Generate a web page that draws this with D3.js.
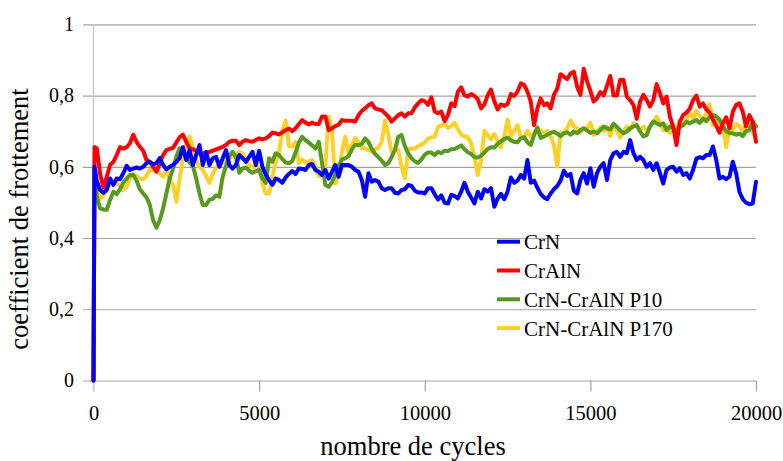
<!DOCTYPE html>
<html>
<head>
<meta charset="utf-8">
<script src="https://cdn.jsdelivr.net/npm/d3@7/dist/d3.min.js"></script>
<style>
  html, body { margin: 0; padding: 0; background: #ffffff; }
  svg { display: block; }
  svg text { font-family: "Liberation Serif", "Times New Roman", serif; }
</style>
</head>
<body>
<svg id="chart" width="783" height="461"></svg>
<script>
// Friction coefficient versus number of cycles for four coatings.
const cycles = [0, 30,
  100, 200, 300, 400, 500, 600, 700, 800, 900, 1000,
  1100, 1200, 1300, 1400, 1500, 1600, 1700, 1800, 1900, 2000,
  2100, 2200, 2300, 2400, 2500, 2600, 2700, 2800, 2900, 3000,
  3100, 3200, 3300, 3400, 3500, 3600, 3700, 3800, 3900, 4000,
  4100, 4200, 4300, 4400, 4500, 4600, 4700, 4800, 4900, 5000,
  5100, 5200, 5300, 5400, 5500, 5600, 5700, 5800, 5900, 6000,
  6100, 6200, 6300, 6400, 6500, 6600, 6700, 6800, 6900, 7000,
  7100, 7200, 7300, 7400, 7500, 7600, 7700, 7800, 7900, 8000,
  8100, 8200, 8300, 8400, 8500, 8600, 8700, 8800, 8900, 9000,
  9100, 9200, 9300, 9400, 9500, 9600, 9700, 9800, 9900, 10000,
  10100, 10200, 10300, 10400, 10500, 10600, 10700, 10800, 10900, 11000,
  11100, 11200, 11300, 11400, 11500, 11600, 11700, 11800, 11900, 12000,
  12100, 12200, 12300, 12400, 12500, 12600, 12700, 12800, 12900, 13000,
  13100, 13200, 13300, 13400, 13500, 13600, 13700, 13800, 13900, 14000,
  14100, 14200, 14300, 14400, 14500, 14600, 14700, 14800, 14900, 15000,
  15100, 15200, 15300, 15400, 15500, 15600, 15700, 15800, 15900, 16000,
  16100, 16200, 16300, 16400, 16500, 16600, 16700, 16800, 16900, 17000,
  17100, 17200, 17300, 17400, 17500, 17600, 17700, 17800, 17900, 18000,
  18100, 18200, 18300, 18400, 18500, 18600, 18700, 18800, 18900, 19000,
  19100, 19200, 19300, 19400, 19500, 19600, 19700, 19800, 19900, 20000];

const crN = [0, 0.60,
  0.56, 0.535, 0.527, 0.535, 0.567, 0.549, 0.567, 0.565, 0.582, 0.603,
  0.591, 0.595, 0.598, 0.595, 0.60, 0.61, 0.614, 0.607, 0.61, 0.624,
  0.605, 0.593, 0.60, 0.605, 0.614, 0.624, 0.655, 0.619, 0.647, 0.605,
  0.633, 0.661, 0.605, 0.642, 0.605, 0.624, 0.628, 0.60, 0.624, 0.647,
  0.605, 0.595, 0.605, 0.633, 0.624, 0.614, 0.628, 0.642, 0.605, 0.645,
  0.60, 0.577, 0.563, 0.549, 0.567, 0.563, 0.555, 0.57, 0.58, 0.588,
  0.58, 0.595, 0.594, 0.591, 0.605, 0.608, 0.591, 0.586, 0.577, 0.591,
  0.567, 0.586, 0.605, 0.572, 0.605, 0.605, 0.605, 0.60, 0.591, 0.586,
  0.563, 0.516, 0.582, 0.558, 0.563, 0.558, 0.54, 0.535, 0.54, 0.54,
  0.527, 0.525, 0.535, 0.537, 0.549, 0.546, 0.533, 0.528, 0.528, 0.525,
  0.54, 0.54, 0.523, 0.508, 0.52, 0.499, 0.497, 0.521, 0.518, 0.511,
  0.53, 0.555, 0.53, 0.514, 0.497, 0.53, 0.511, 0.537, 0.53, 0.54,
  0.488, 0.511, 0.524, 0.509, 0.53, 0.57, 0.555, 0.561, 0.577, 0.567,
  0.619, 0.555, 0.561, 0.541, 0.524, 0.514, 0.509, 0.525, 0.537, 0.546,
  0.561, 0.589, 0.574, 0.58, 0.533, 0.525, 0.563, 0.582, 0.553, 0.596,
  0.544, 0.582, 0.60, 0.61, 0.563, 0.619, 0.638, 0.642, 0.628, 0.642,
  0.638, 0.675, 0.638, 0.619, 0.628, 0.619, 0.60, 0.61, 0.591, 0.61,
  0.582, 0.553, 0.591, 0.598, 0.60, 0.586, 0.596, 0.577, 0.582, 0.567,
  0.591, 0.623, 0.627, 0.624, 0.633, 0.633, 0.657, 0.619, 0.567, 0.572,
  0.565, 0.572, 0.614, 0.582, 0.53, 0.509, 0.499, 0.495, 0.497, 0.558];

const crAlN = [0, 0.655,
  0.652, 0.58, 0.542, 0.572, 0.605, 0.614, 0.633, 0.655, 0.651, 0.655,
  0.666, 0.69, 0.67, 0.656, 0.645, 0.619, 0.614, 0.60, 0.586, 0.61,
  0.633, 0.647, 0.65, 0.653, 0.668, 0.683, 0.69, 0.67, 0.652, 0.649,
  0.645, 0.638, 0.638, 0.638, 0.642, 0.645, 0.649, 0.652, 0.656, 0.661,
  0.67, 0.673, 0.673, 0.661, 0.67, 0.675, 0.672, 0.67, 0.675, 0.68,
  0.677, 0.68, 0.686, 0.696, 0.694, 0.691, 0.697, 0.703, 0.707, 0.70,
  0.708, 0.72, 0.731, 0.724, 0.719, 0.724, 0.72, 0.72, 0.741, 0.741,
  0.703, 0.708, 0.714, 0.718, 0.731, 0.729, 0.729, 0.729, 0.727, 0.745,
  0.757, 0.764, 0.773, 0.778, 0.764, 0.761, 0.759, 0.75, 0.741, 0.727,
  0.736, 0.745, 0.75, 0.741, 0.75, 0.75, 0.767, 0.778, 0.787, 0.784,
  0.774, 0.795, 0.755, 0.75, 0.755, 0.728, 0.745, 0.778, 0.77, 0.811,
  0.823, 0.801, 0.797, 0.804, 0.799, 0.79, 0.764, 0.775, 0.801, 0.817,
  0.783, 0.761, 0.775, 0.771, 0.776, 0.804, 0.799, 0.811, 0.834, 0.83,
  0.811, 0.783, 0.717, 0.764, 0.792, 0.773, 0.778, 0.764, 0.802, 0.82,
  0.86, 0.853, 0.846, 0.862, 0.867, 0.825, 0.802, 0.875, 0.84, 0.813,
  0.783, 0.792, 0.81, 0.80, 0.827, 0.855, 0.80, 0.80, 0.844, 0.844,
  0.797, 0.787, 0.774, 0.735, 0.783, 0.802, 0.787, 0.769, 0.787, 0.832,
  0.806, 0.778, 0.797, 0.741, 0.713, 0.661, 0.727, 0.745, 0.752, 0.763,
  0.787, 0.80, 0.769, 0.778, 0.761, 0.752, 0.733, 0.715, 0.696, 0.722,
  0.739, 0.708, 0.755, 0.774, 0.778, 0.755, 0.713, 0.745, 0.727, 0.67];

const crNCrAlNP10 = [0, 0.59,
  0.516, 0.483, 0.48, 0.479, 0.507, 0.53, 0.523, 0.537, 0.555, 0.567,
  0.577, 0.577, 0.561, 0.537, 0.525, 0.514, 0.493, 0.45, 0.429, 0.45,
  0.483, 0.525, 0.567, 0.594, 0.628, 0.652, 0.647, 0.624, 0.612, 0.602,
  0.567, 0.525, 0.493, 0.493, 0.507, 0.51, 0.52, 0.516, 0.572, 0.602,
  0.63, 0.642, 0.628, 0.583, 0.595, 0.598, 0.589, 0.583, 0.588, 0.591,
  0.567, 0.555, 0.624, 0.614, 0.638, 0.633, 0.622, 0.612, 0.61, 0.616,
  0.64, 0.668, 0.684, 0.675, 0.668, 0.66, 0.651, 0.67, 0.61, 0.549,
  0.544, 0.557, 0.577, 0.602, 0.621, 0.624, 0.63, 0.649, 0.662, 0.661,
  0.664, 0.68, 0.67, 0.65, 0.636, 0.627, 0.617, 0.605, 0.61, 0.628,
  0.647, 0.684, 0.689, 0.658, 0.638, 0.624, 0.615, 0.611, 0.621, 0.634,
  0.64, 0.64, 0.633, 0.642, 0.638, 0.645, 0.644, 0.649, 0.65, 0.655,
  0.66, 0.649, 0.641, 0.636, 0.627, 0.626, 0.631, 0.64, 0.65, 0.655,
  0.654, 0.664, 0.672, 0.678, 0.682, 0.674, 0.67, 0.669, 0.68, 0.683,
  0.669, 0.661, 0.689, 0.71, 0.681, 0.685, 0.69, 0.695, 0.698, 0.693,
  0.686, 0.694, 0.697, 0.69, 0.699, 0.694, 0.703, 0.708, 0.702, 0.695,
  0.699, 0.694, 0.703, 0.713, 0.708, 0.705, 0.721, 0.712, 0.702, 0.694,
  0.699, 0.708, 0.713, 0.717, 0.699, 0.685, 0.689, 0.713, 0.727, 0.722,
  0.717, 0.722, 0.703, 0.713, 0.708, 0.70, 0.712, 0.717, 0.726, 0.722,
  0.727, 0.731, 0.723, 0.735, 0.728, 0.74, 0.745, 0.741, 0.732, 0.714,
  0.70, 0.695, 0.694, 0.69, 0.693, 0.686, 0.70, 0.703, 0.726, 0.713];

const crNCrAlNP170 = [0, 0.60,
  0.53, 0.51, 0.52, 0.535, 0.55, 0.56, 0.555, 0.545, 0.535, 0.544,
  0.567, 0.58, 0.574, 0.567, 0.565, 0.574, 0.591, 0.591, 0.586, 0.582,
  0.572, 0.591, 0.563, 0.549, 0.502, 0.567, 0.624, 0.664, 0.684, 0.656,
  0.619, 0.60, 0.591, 0.574, 0.555, 0.58, 0.598, 0.605, 0.611, 0.619,
  0.625, 0.63, 0.633, 0.642, 0.638, 0.617, 0.605, 0.60, 0.60, 0.60,
  0.553, 0.525, 0.525, 0.572, 0.614, 0.642, 0.70, 0.73, 0.658, 0.656,
  0.67, 0.61, 0.621, 0.611, 0.615, 0.619, 0.602, 0.574, 0.574, 0.605,
  0.741, 0.703, 0.553, 0.577, 0.642, 0.684, 0.638, 0.661, 0.681, 0.67,
  0.652, 0.652, 0.647, 0.642, 0.649, 0.653, 0.67, 0.73, 0.69, 0.642,
  0.647, 0.647, 0.60, 0.567, 0.647, 0.652, 0.651, 0.658, 0.662, 0.668,
  0.679, 0.683, 0.684, 0.712, 0.716, 0.72, 0.709, 0.715, 0.724, 0.705,
  0.69, 0.685, 0.683, 0.666, 0.628, 0.577, 0.619, 0.701, 0.689, 0.677,
  0.692, 0.67, 0.655, 0.685, 0.733, 0.686, 0.701, 0.717, 0.683, 0.68,
  0.701, 0.685, 0.694, 0.711, 0.701, 0.694, 0.701, 0.685, 0.661, 0.60,
  0.696, 0.696, 0.708, 0.73, 0.713, 0.708, 0.696, 0.708, 0.708, 0.724,
  0.689, 0.699, 0.711, 0.70, 0.713, 0.686, 0.72, 0.701, 0.682, 0.699,
  0.713, 0.703, 0.722, 0.713, 0.703, 0.713, 0.703, 0.713, 0.727, 0.741,
  0.722, 0.703, 0.717, 0.694, 0.713, 0.704, 0.729, 0.714, 0.731, 0.75,
  0.736, 0.757, 0.743, 0.732, 0.748, 0.775, 0.717, 0.73, 0.698, 0.719,
  0.655, 0.708, 0.705, 0.72, 0.715, 0.696, 0.727, 0.714, 0.696, 0.68];

const seriesNames = ["CrN", "CrAlN", "CrN-CrAlN P10", "CrN-CrAlN P170"];
const seriesValues = [crN, crAlN, crNCrAlNP10, crNCrAlNP170];
const seriesColors = ["#0000ff", "#ff0000", "#58991f", "#ffd02a"];
// painting order: last series first, CrN on top
const drawOrder = [3, 2, 1, 0];

const xTicks = [0, 5000, 10000, 15000, 20000];
const yTicks = [0, 0.2, 0.4, 0.6, 0.8, 1];

const serif = "Liberation Serif";
const svg = d3.select("#chart");
const plotLeft = 93.5, plotRight = 756, plotTop = 24.3, plotBottom = 380.5, gridStart = 83;

const x = d3.scaleLinear().domain([0, 20000]).range([plotLeft, plotRight]);
const y = d3.scaleLinear().domain([0, 1]).range([plotBottom, plotTop]);

const fmtY = d => (d === 0 || d === 1) ? String(d) : d3.format(".1f")(d).replace(".", ",");

// horizontal gridlines with value labels
const yAxis = svg.append("g")
  .attr("transform", `translate(${plotRight},0)`)
  .call(d3.axisLeft(y).tickValues(yTicks).tickSize(plotRight - gridStart).tickPadding(9).tickFormat(fmtY))
  .attr("font-family", serif).attr("font-size", 20);
yAxis.select(".domain").remove();
yAxis.selectAll(".tick line").attr("stroke", "#a3a3a3").attr("stroke-width", 1.2);
yAxis.selectAll(".tick text").attr("fill", "#000");

// vertical axis line
svg.append("line")
  .attr("x1", plotLeft).attr("x2", plotLeft).attr("y1", plotTop).attr("y2", plotBottom + 11)
  .attr("stroke", "#cccccc").attr("stroke-width", 1.6);

// horizontal axis ticks and labels
const xAxis = svg.append("g")
  .attr("transform", `translate(0,${plotBottom})`)
  .call(d3.axisBottom(x).tickValues(xTicks).tickSize(11).tickPadding(14).tickFormat(d3.format("d")))
  .attr("font-family", serif).attr("font-size", 20.5);
xAxis.select(".domain").remove();
xAxis.selectAll(".tick line").attr("stroke", d => d === 0 ? "#cccccc" : "#a3a3a3").attr("stroke-width", 1.2);
xAxis.selectAll(".tick text").attr("fill", "#000");

// data lines
const line = d3.line().x((d, i) => x(cycles[i])).y(d => y(d));
drawOrder.forEach(k => {
  svg.append("path")
    .datum(seriesValues[k])
    .attr("fill", "none")
    .attr("stroke", seriesColors[k])
    .attr("stroke-width", 4)
    .attr("stroke-linejoin", "round")
    .attr("stroke-linecap", "round")
    .attr("d", line);
});

// legend
const legend = svg.append("g").attr("transform", "translate(497,241.7)")
  .attr("font-family", serif).attr("font-size", 21);
seriesNames.forEach((name, i) => {
  const g = legend.append("g").attr("transform", `translate(0,${i * 28.8})`);
  g.append("line").attr("x1", 0).attr("x2", 23).attr("y1", 0).attr("y2", 0)
    .attr("stroke", seriesColors[i]).attr("stroke-width", 4);
  g.append("text").attr("x", 27).attr("y", 7.5)
    .attr("fill", "#000").text(name);
});

// axis titles
svg.append("text")
  .attr("x", 413).attr("y", 455)
  .attr("text-anchor", "middle")
  .attr("font-family", serif).attr("font-size", 26.5).attr("fill", "#000")
  .text("nombre de cycles");

svg.append("text")
  .attr("transform", "translate(28,219) rotate(-90)")
  .attr("text-anchor", "middle")
  .attr("font-family", serif).attr("font-size", 26.5).attr("fill", "#000")
  .text("coefficient de frottement");
</script>
</body>
</html>
